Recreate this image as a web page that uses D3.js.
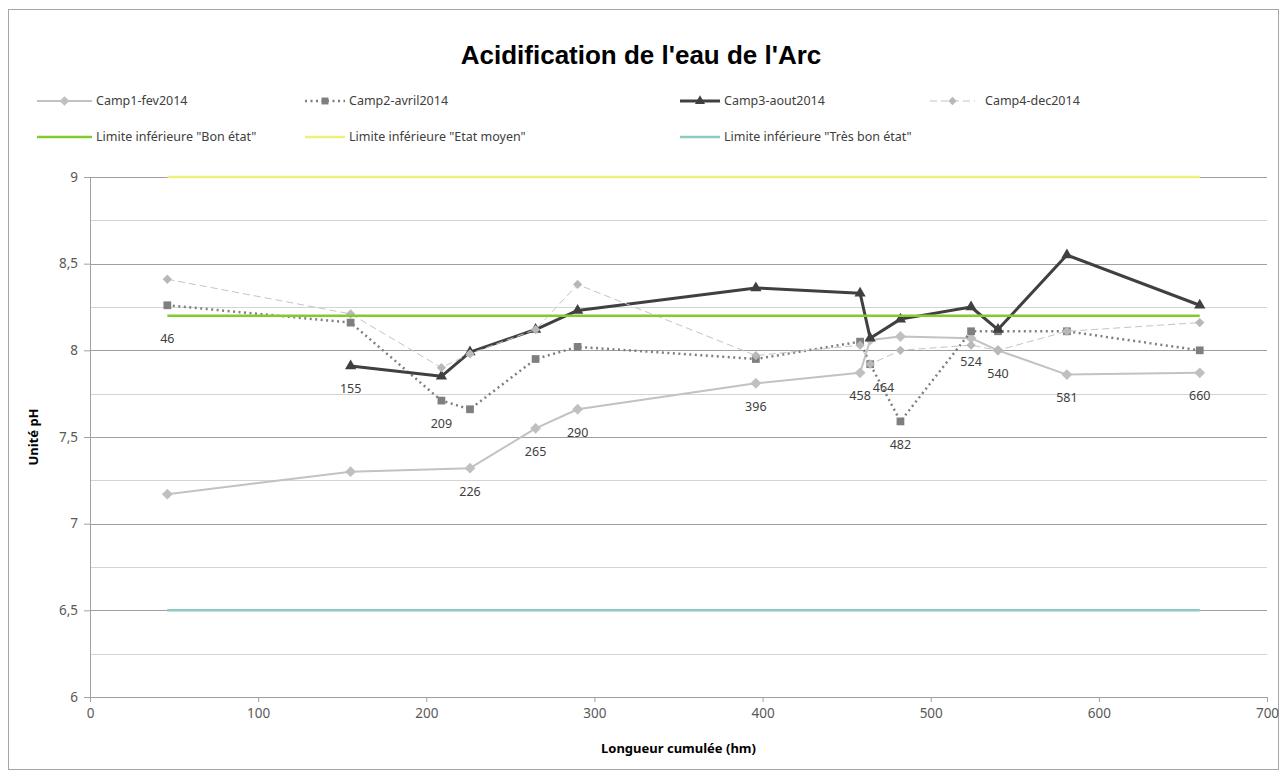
<!DOCTYPE html>
<html lang="fr">
<head>
<meta charset="utf-8">
<script src="https://cdn.jsdelivr.net/npm/d3@7"></script>
<style>
  html, body { margin: 0; padding: 0; background: #fff; }
  svg { display: block; }
  text { font-family: "Noto Sans", "Open Sans", sans-serif; }
</style>
</head>
<body>
<svg id="chart" width="1286" height="775"></svg>
<script>
// Cumulated length along the river (hm) for each sampling station
const distances = [46, 155, 209, 226, 265, 290, 396, 458, 464, 482, 524, 540, 581, 660];

// pH measured per campaign (null = no measurement at that station)
const camp1 = [7.17, 7.30, null, 7.32, 7.55, 7.66, 7.81, 7.87, 8.06, 8.08, 8.07, 8.00, 7.86, 7.87];
const camp2 = [8.26, 8.16, 7.71, 7.66, 7.95, 8.02, 7.95, 8.05, 7.92, 7.59, 8.11, 8.11, 8.11, 8.00];
const camp3 = [null, 7.91, 7.85, 7.99, 8.12, 8.23, 8.36, 8.33, 8.07, 8.18, 8.25, 8.12, 8.55, 8.26];
const camp4 = [8.41, 8.21, 7.90, 7.98, 8.12, 8.38, 7.97, 8.03, 7.92, 8.00, 8.03, 8.00, 8.11, 8.16];

// Lower limits of the quality classes
const limiteBonEtat = 8.2;
const limiteEtatMoyen = 9;
const limiteTresBonEtat = 6.5;

// Station labels: which series each distance label hangs under
const labelAnchors = ["bon", "camp3", "camp2", "camp1", "camp1", "camp1", "camp1",
                      "camp1", "camp2", "camp2", "camp1", "camp1", "camp1", "camp1"];

const xTicks = [0, 100, 200, 300, 400, 500, 600, 700];
const yTicks = [6, 6.5, 7, 7.5, 8, 8.5, 9];
const yMinorTicks = [6.25, 6.75, 7.25, 7.75, 8.25, 8.75];

const svg = d3.select("#chart");

const x = d3.scaleLinear().domain([0, 700]).range([90, 1267]);
const y = d3.scaleLinear().domain([6, 9]).range([697, 177]);

// chart frame
svg.append("rect")
  .attr("x", 8.5).attr("y", 9.5).attr("width", 1270).attr("height", 760)
  .attr("fill", "#fff").attr("stroke", "#a6a6a6").attr("stroke-width", 1);

// title
svg.append("text")
  .attr("x", 641).attr("y", 64)
  .attr("text-anchor", "middle")
  .style("font-family", "'Liberation Sans Narrow', 'Liberation Sans', Arial, sans-serif")
  .style("font-weight", "bold").style("font-size", "26px")
  .attr("fill", "#000")
  .text("Acidification de l'eau de l'Arc");

// gridlines
const grid = svg.append("g");
grid.selectAll("line.minor").data(yMinorTicks).join("line")
  .attr("class", "minor")
  .attr("x1", x(0)).attr("x2", x(700))
  .attr("y1", d => Math.round(y(d)) + 0.5).attr("y2", d => Math.round(y(d)) + 0.5)
  .attr("stroke", "#d4d4d4").attr("stroke-width", 1);
grid.selectAll("line.major").data(yTicks.filter(d => d > 6)).join("line")
  .attr("class", "major")
  .attr("x1", x(0)).attr("x2", x(700))
  .attr("y1", d => Math.round(y(d)) + 0.5).attr("y2", d => Math.round(y(d)) + 0.5)
  .attr("stroke", "#a0a0a0").attr("stroke-width", 1);

// axes
const fmt = d => String(d).replace(".", ",");
const yAxis = svg.append("g")
  .attr("transform", `translate(${x(0)},0)`)
  .call(d3.axisLeft(y).tickValues(yTicks).tickSize(6).tickPadding(6).tickFormat(fmt));
const xAxis = svg.append("g")
  .attr("transform", `translate(0,${y(6)})`)
  .call(d3.axisBottom(x).tickValues(xTicks).tickSize(5).tickPadding(6).tickFormat(fmt));
[yAxis, xAxis].forEach(g => {
  g.selectAll("path.domain").attr("stroke", "#a0a0a0");
  g.selectAll(".tick line").attr("stroke", "#a0a0a0");
  g.selectAll(".tick text").attr("fill", "#595959")
    .style("font-size", "13.5px").style("font-family", "'Noto Sans', sans-serif");
});

// axis titles
svg.append("text")
  .attr("transform", `translate(38,${y(7.5)}) rotate(-90)`)
  .attr("text-anchor", "middle")
  .style("font-weight", "bold").style("font-size", "13px")
  .attr("fill", "#000")
  .text("Unité pH");
svg.append("text")
  .attr("x", x(350)).attr("y", 753)
  .attr("text-anchor", "middle")
  .style("font-weight", "bold").style("font-size", "13px")
  .attr("fill", "#000")
  .text("Longueur cumulée (hm)");

// series definitions
const series = {
  camp1: { name: "Camp1-fev2014", values: camp1, color: "#c2c2c2", width: 2, dash: null,
           symbol: d3.symbolDiamond2, size: 75, mcolor: "#c0c0c0" },
  camp2: { name: "Camp2-avril2014", values: camp2, color: "#7f7f7f", width: 2.5, dash: "2,3.5",
           symbol: d3.symbolSquare, size: 60, mcolor: "#7f7f7f" },
  camp3: { name: "Camp3-aout2014", values: camp3, color: "#404040", width: 3, dash: null,
           symbol: d3.symbolTriangle, size: 55, mcolor: "#404040" },
  camp4: { name: "Camp4-dec2014", values: camp4, color: "#c4c4c4", width: 1, dash: "7,4",
           symbol: d3.symbolDiamond2, size: 55, mcolor: "#b8b8b8" }
};

const pts = key => distances
  .map((d, i) => ({ d, v: series[key].values[i] }))
  .filter(p => p.v !== null);

const line = d3.line().x(p => x(p.d)).y(p => y(p.v));

const plot = svg.append("g");
["camp1", "camp2", "camp3", "camp4"].forEach(key => {
  const s = series[key];
  plot.append("path")
    .datum(pts(key))
    .attr("d", line)
    .attr("fill", "none")
    .attr("stroke", s.color)
    .attr("stroke-width", s.width)
    .attr("stroke-dasharray", s.dash)
    .attr("stroke-linejoin", "round");
  plot.append("g").selectAll("path").data(pts(key)).join("path")
    .attr("d", d3.symbol(s.symbol, s.size))
    .attr("transform", p => `translate(${x(p.d)},${y(p.v)})`)
    .attr("fill", s.mcolor);
});

// quality class limits
const limits = [
  { name: "Limite inférieure \"Bon état\"", value: limiteBonEtat, color: "#80cc2c" },
  { name: "Limite inférieure \"Etat moyen\"", value: limiteEtatMoyen, color: "#eef07c" },
  { name: "Limite inférieure \"Très bon état\"", value: limiteTresBonEtat, color: "#8ccac2" }
];
const xExtent = d3.extent(distances);
plot.selectAll("line.limit").data(limits).join("line")
  .attr("class", "limit")
  .attr("x1", x(xExtent[0])).attr("x2", x(xExtent[1]))
  .attr("y1", d => y(d.value)).attr("y2", d => y(d.value))
  .attr("stroke", d => d.color).attr("stroke-width", 2.5);

// station distance labels, nudged right when they would collide with the previous one
const anchorValue = (key, i) => key === "bon" ? limiteBonEtat : series[key].values[i];
const labels = svg.append("g").selectAll("text").data(distances).join("text")
  .attr("x", d => x(d))
  .attr("y", (d, i) => y(anchorValue(labelAnchors[i], i)) + 23)
  .attr("dy", "0.35em")
  .attr("text-anchor", "middle")
  .style("font-size", "12.5px")
  .attr("fill", "#404040")
  .text(d => d);
let prevBox = null;
labels.each(function () {
  const el = d3.select(this);
  let b = this.getBBox();
  if (prevBox && b.x < prevBox.x + prevBox.width + 2 &&
      Math.abs(b.y - prevBox.y) < b.height) {
    const shift = prevBox.x + prevBox.width + 2 - b.x;
    el.attr("x", +el.attr("x") + shift);
    b = this.getBBox();
  }
  prevBox = b;
});

// legend
const legend = svg.append("g").style("font-size", "12.5px");
const legendItems = [
  { key: "camp1", col: 37, row: 0, len: 55 },
  { key: "camp2", col: 305, row: 0, len: 40 },
  { key: "camp3", col: 680, row: 0, len: 40 },
  { key: "camp4", col: 930, row: 0, len: 45 },
  { limit: 0, col: 37, row: 1, len: 55 },
  { limit: 1, col: 305, row: 1, len: 40 },
  { limit: 2, col: 680, row: 1, len: 40 }
];
legendItems.forEach(it => {
  const ly = it.row === 0 ? 101 : 137;
  const g = legend.append("g");
  if (it.key) {
    const s = series[it.key];
    g.append("line")
      .attr("x1", it.col).attr("x2", it.col + it.len)
      .attr("y1", ly).attr("y2", ly)
      .attr("stroke", s.color).attr("stroke-width", s.width)
      .attr("stroke-dasharray", s.dash);
    g.append("path")
      .attr("d", d3.symbol(s.symbol, s.size * 0.8))
      .attr("transform", `translate(${it.col + it.len / 2},${ly})`)
      .attr("fill", s.mcolor);
    g.append("text")
      .attr("x", it.col + it.len + (it.key === "camp4" ? 10 : 4)).attr("y", ly)
      .attr("dy", "0.35em").attr("fill", "#404040")
      .text(s.name);
  } else {
    const l = limits[it.limit];
    g.append("line")
      .attr("x1", it.col).attr("x2", it.col + it.len)
      .attr("y1", ly).attr("y2", ly)
      .attr("stroke", l.color).attr("stroke-width", 2.5);
    g.append("text")
      .attr("x", it.col + it.len + 4).attr("y", ly)
      .attr("dy", "0.35em").attr("fill", "#404040")
      .text(l.name);
  }
});
</script>
</body>
</html>
